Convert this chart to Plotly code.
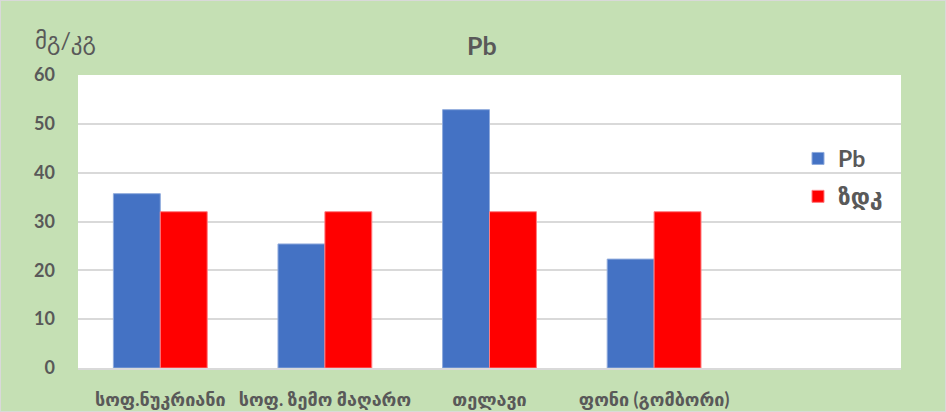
import plotly.graph_objects as go

categories = ["სოფ.ნუკრიანი", "სოფ. ზემო მაღარო", "თელავი", "ფონი (გომბორი)", " "]
pb_values = [35.7, 25.4, 52.9, 22.3, None]
zdk_values = [32, 32, 32, 32, None]
y_ticks = [0, 10, 20, 30, 40, 50, 60]

TXT = "#595959"
FONT = "Lato, DejaVu Sans, sans-serif"

L, R, T, B = 78, 45, 75, 44
W, H = 946, 412
pw, ph = W - L - R, H - T - B

def px_to_paper(xp, yp):
    return (xp - L) / pw, (H - B - yp) / ph

fig = go.Figure()
fig.add_trace(go.Bar(x=categories, y=pb_values, name="Pb",
                     marker=dict(color="#4472C4", line=dict(color="#8FAADC", width=1)),
                     legendgroup="a"))
fig.add_trace(go.Bar(x=categories, y=zdk_values, name="ზდკ",
                     marker=dict(color="#FF0000", line=dict(color="#FF7C80", width=1)),
                     legendgroup="b"))

lx, ly = px_to_paper(798, 137)
tx, ty = px_to_paper(482, 45)
yx, yy = px_to_paper(33, 40)

fig.update_layout(
    width=W, height=H,
    margin=dict(l=L, r=R, t=T, b=B, autoexpand=False),
    paper_bgcolor="#C5E0B4",
    plot_bgcolor="#FFFFFF",
    barmode="group",
    bargap=0.43,
    bargroupgap=0,
    showlegend=True,
    legend=dict(x=lx, y=ly, xanchor="left", yanchor="top", bgcolor="rgba(0,0,0,0)",
                font=dict(family=FONT, size=23, color=TXT, weight="bold"),
                tracegroupgap=5, itemwidth=30),
    xaxis=dict(type="category", categoryorder="array", categoryarray=categories,
               tickfont=dict(family=FONT, size=18, color=TXT, weight="bold"),
               showline=True, linecolor="#D9D9D9", linewidth=1.5, ticks="", showgrid=False,
               ticklabelstandoff=15, automargin=False),
    yaxis=dict(range=[0, 60], tickvals=y_ticks, showgrid=True, gridcolor="#D9D9D9", gridwidth=1.5,
               zeroline=False, showline=False, ticks="", ticklabelstandoff=22, automargin=False,
               tickfont=dict(family=FONT, size=18, color=TXT, weight="bold")),
    annotations=[
        dict(text="Pb", x=tx, y=ty, xref="paper", yref="paper", showarrow=False,
             xanchor="center", yanchor="middle",
             font=dict(family=FONT, size=25, color=TXT, weight="bold")),
        dict(text="მგ/კგ", x=yx, y=yy, xref="paper", yref="paper", showarrow=False,
             xanchor="left", yanchor="middle",
             font=dict(family=FONT, size=23, color=TXT)),
    ],
    shapes=[dict(type="rect", xref="paper", yref="paper", x0=-L / pw, x1=1 + R / pw,
                 y0=-B / ph, y1=1 + T / ph, line=dict(color="#D9D9D9", width=2), layer="above")],
)

fig.write_html("out.html", config={"displayModeBar": False},
               post_script="document.body.style.margin='0';")
